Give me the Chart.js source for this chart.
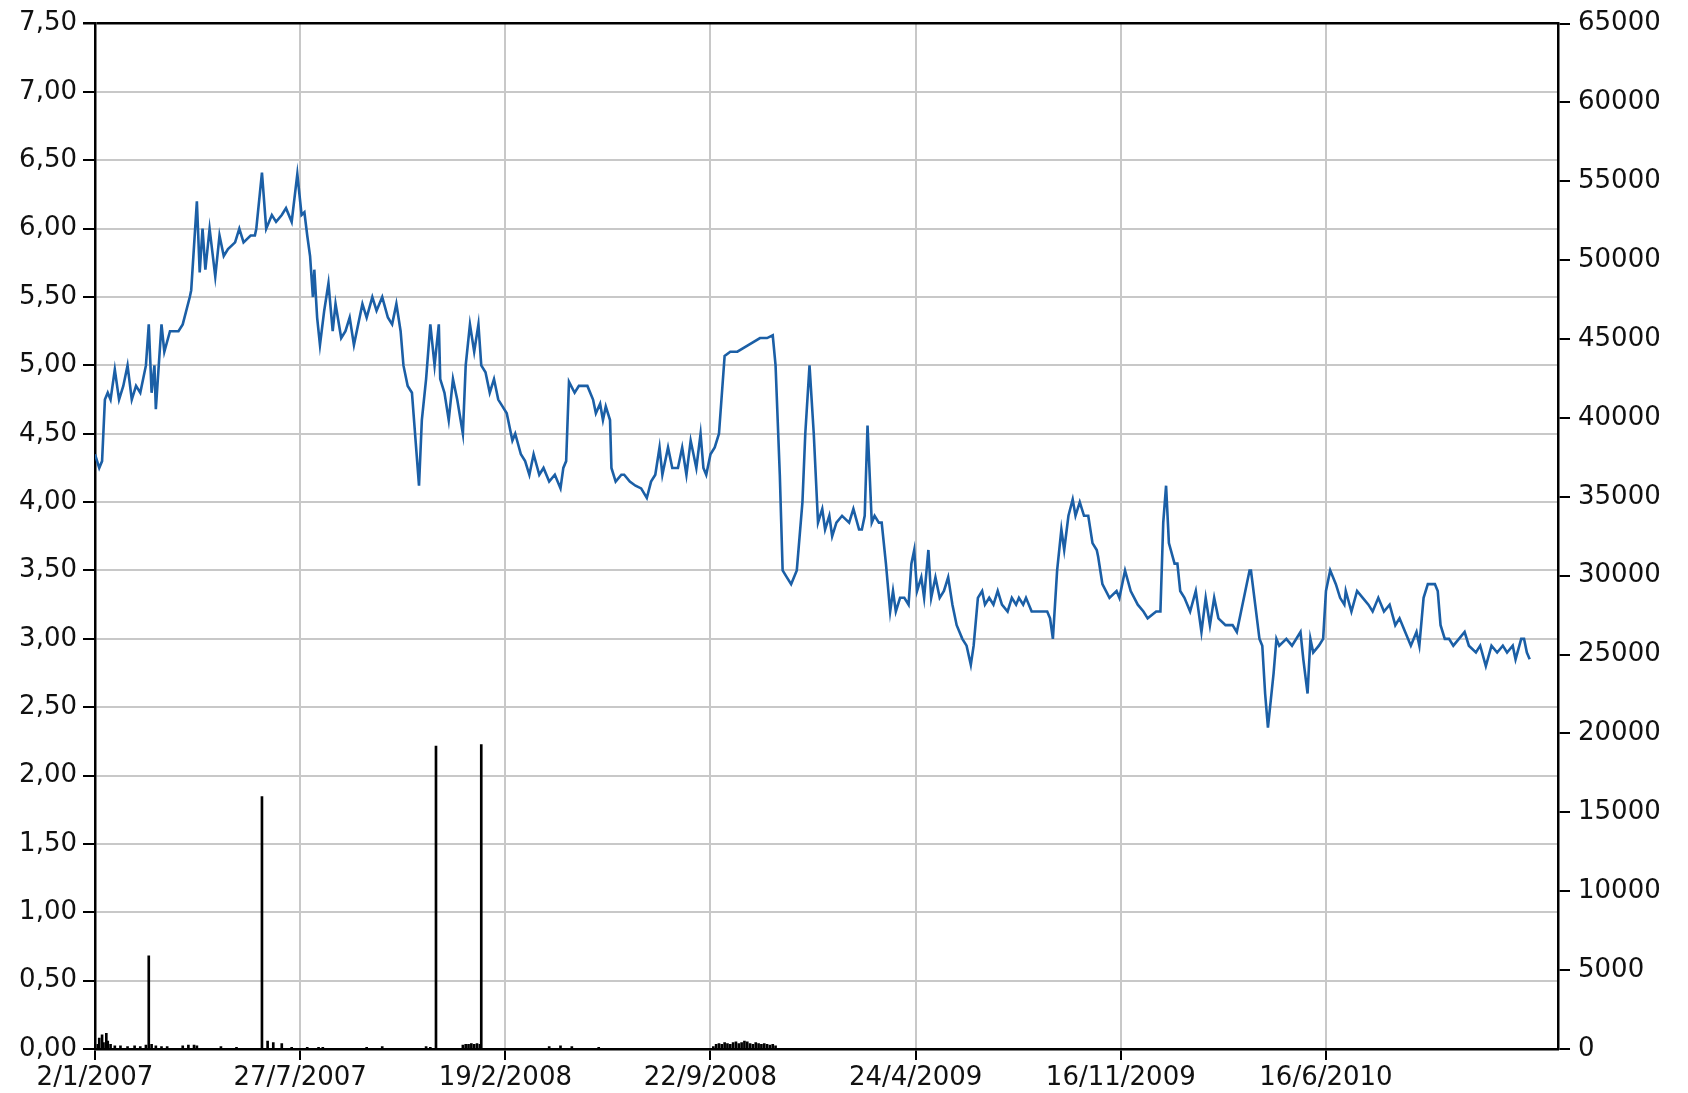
<!DOCTYPE html>
<html>
<head>
<meta charset="utf-8">
<script src="https://cdn.jsdelivr.net/npm/chart.js@4"></script>
<style>
html,body{margin:0;padding:0;background:#fff;}
#wrap{width:1688px;height:1093px;}
</style>
</head>
<body>
<div id="wrap"><canvas id="c" width="1688" height="1093"></canvas></div>
<script>
// x tick labels, one every TICK_STEP trading days
const xTickLabels = ["2/1/2007","27/7/2007","19/2/2008","22/9/2008","24/4/2009","16/11/2009","16/6/2010"];
const TICK_STEP = 145;
const X_MAX = 1034;

// price series (trading-day index, value)
const priceDay = [0,3,5,7,9,11,14,17,20,23,26,29,32,36,38,40,42,43,47,49,53,59,62,67,68,72,74,76,78,81,85,88,91,94,99,102,105,110,113,114,118,121,125,128,132,135,139,143,146,148,150,152,154,155,157,159,162,165,168,170,174,177,180,183,186,189,192,196,199,203,207,210,213,216,218,221,224,229,231,234,237,240,243,244,247,250,253,256,260,262,265,268,271,273,276,279,282,285,288,291,295,297,301,304,307,310,314,317,321,325,329,331,333,335,339,342,348,352,354,357,359,361,364,365,368,372,374,378,382,386,390,393,396,399,401,405,408,412,415,418,421,425,428,430,432,435,438,441,445,449,454,462,470,475,479,481,484,486,489,492,496,500,502,505,508,511,514,516,519,521,524,528,533,536,540,542,544,546,549,551,554,556,559,562,564,566,569,572,575,577,579,581,584,586,589,591,594,597,600,603,606,609,613,616,619,621,624,627,629,632,635,638,641,645,648,651,653,656,658,662,667,673,675,677,680,683,685,688,691,693,696,699,702,705,708,709,712,717,722,724,728,732,737,741,744,750,753,755,757,759,763,765,767,770,774,778,782,785,788,791,794,799,804,807,810,813,816,817,820,823,825,827,829,833,835,837,842,846,852,854,857,859,861,865,868,870,873,875,877,880,883,884,888,892,896,900,903,907,911,915,919,922,926,930,934,936,939,942,947,949,951,954,957,960,964,968,971,976,979,983,987,991,995,998,1002,1004,1008,1010,1012,1014];
const priceValue = [4.35,4.25,4.30,4.75,4.80,4.75,4.97,4.75,4.85,5.00,4.75,4.85,4.80,5.00,5.30,4.80,5.00,4.68,5.30,5.10,5.25,5.25,5.30,5.50,5.55,6.20,5.68,6.00,5.70,6.00,5.65,5.95,5.80,5.85,5.90,6.00,5.90,5.95,5.95,6.00,6.41,6.00,6.10,6.05,6.10,6.15,6.05,6.40,6.10,6.12,5.95,5.80,5.50,5.70,5.35,5.15,5.40,5.60,5.25,5.45,5.20,5.25,5.35,5.15,5.30,5.45,5.35,5.50,5.40,5.50,5.35,5.30,5.45,5.25,5.00,4.85,4.80,4.12,4.60,4.90,5.30,5.00,5.30,4.90,4.80,4.60,4.90,4.75,4.50,5.00,5.30,5.10,5.30,5.00,4.95,4.80,4.90,4.75,4.70,4.65,4.45,4.50,4.35,4.30,4.20,4.35,4.20,4.25,4.15,4.20,4.10,4.25,4.30,4.88,4.80,4.85,4.85,4.75,4.65,4.72,4.60,4.70,4.60,4.25,4.15,4.20,4.20,4.15,4.12,4.10,4.03,4.15,4.20,4.40,4.20,4.40,4.25,4.25,4.40,4.20,4.45,4.25,4.50,4.25,4.20,4.35,4.40,4.50,5.07,5.10,5.10,5.15,5.20,5.20,5.22,5.00,4.20,3.50,3.45,3.40,3.50,4.00,4.50,5.00,4.50,3.85,3.95,3.80,3.90,3.75,3.85,3.90,3.85,3.95,3.80,3.80,3.90,4.56,3.85,3.90,3.85,3.85,3.55,3.20,3.35,3.20,3.30,3.30,3.25,3.55,3.65,3.35,3.45,3.30,3.65,3.30,3.45,3.30,3.35,3.45,3.25,3.10,3.00,2.95,2.81,2.95,3.30,3.35,3.25,3.30,3.25,3.35,3.25,3.20,3.30,3.25,3.30,3.25,3.30,3.20,3.20,3.20,3.15,3.00,3.50,3.80,3.65,3.90,4.02,3.90,4.00,3.90,3.90,3.70,3.65,3.60,3.40,3.30,3.35,3.30,3.50,3.35,3.25,3.20,3.15,3.20,3.20,3.85,4.12,3.70,3.55,3.55,3.35,3.30,3.20,3.35,3.05,3.30,3.10,3.30,3.15,3.10,3.10,3.05,3.20,3.35,3.50,3.50,3.25,3.00,2.95,2.60,2.35,2.75,3.00,2.95,3.00,2.95,3.05,2.85,2.60,3.00,2.90,2.95,3.00,3.35,3.50,3.45,3.40,3.30,3.25,3.35,3.20,3.35,3.30,3.25,3.20,3.30,3.20,3.25,3.10,3.15,3.05,2.95,3.05,2.95,3.30,3.40,3.40,3.35,3.10,3.00,3.00,2.95,3.00,3.05,2.95,2.90,2.95,2.80,2.95,2.90,2.95,2.90,2.95,2.85,3.00,3.00,2.90,2.85];

// volume series (trading-day index, shares)
const volumeDay = [2,3,5,6,8,9,11,14,18,23,28,32,36,38,40,43,47,51,62,66,70,72,89,100,118,122,126,132,139,150,158,161,192,203,234,237,241,260,262,264,266,268,270,272,273,321,329,337,356,437,439,441,443,445,447,449,451,453,455,457,459,461,463,465,467,469,471,473,475,477,479,481];
const volumeValue = [300,700,900,400,1000,500,300,200,200,150,200,150,250,5900,300,200,150,150,200,250,250,200,150,100,16000,500,400,350,100,100,100,100,100,150,150,100,19200,250,300,300,350,300,350,300,19300,150,200,150,100,150,300,350,300,400,350,300,400,450,350,400,500,450,350,300,400,350,300,350,300,250,300,200];

const priceData = priceDay.map((d,i)=>({x:d,y:priceValue[i]}));
const volumeData = volumeDay.map((d,i)=>({x:d,y:volumeValue[i]}));

const FONT = {family:"'DejaVu Sans', Verdana, sans-serif", size:26};

new Chart(document.getElementById('c'), {
  data: {
    datasets: [
      {type:'line', data: priceData, yAxisID:'y', xAxisID:'x', borderColor:'#1b5fa6', borderWidth:2.6, pointRadius:0, tension:0, order:1},
      {type:'bar', data: volumeData, yAxisID:'y2', xAxisID:'x', backgroundColor:'#000', barThickness:2, order:2}
    ]
  },
  options: {
    responsive:false,
    devicePixelRatio:1,
    animation:false,
    layout:{padding:{top:21,left:0,right:0,bottom:0}},
    plugins:{legend:{display:false}, tooltip:{enabled:false}},
    scales:{
      x:{
        type:'linear', min:0, max:X_MAX, position:'bottom', offset:false,
        afterBuildTicks: s => { s.ticks = xTickLabels.map((_, i) => ({value: i * TICK_STEP})); },
        ticks:{color:'#111', font:FONT, padding:3, maxRotation:0, autoSkip:false,
          callback: v => xTickLabels[Math.round(v/TICK_STEP)] ?? ''},
        grid:{offset:false, color:'#c8c8c8', lineWidth:2, tickColor:'#000', tickLength:11},
        border:{color:'#000', width:2.5},
        afterFit: s => { s.height = 44; }
      },
      y:{
        type:'linear', position:'left', min:0, max:7.5,
        ticks:{stepSize:0.5, color:'#111', font:FONT, padding:6,
          callback: v => v.toFixed(2).replace('.', ',')},
        grid:{color: c => (c.tick && c.tick.value === 7.5) ? '#000' : '#c8c8c8', lineWidth: c => (c.tick && c.tick.value === 7.5) ? 2.5 : 2, tickColor:'#000', tickLength:12},
        border:{color:'#000', width:2.5},
        afterFit: s => { s.width = 95; }
      },
      y2:{
        type:'linear', position:'right', min:0, max:65000,
        ticks:{stepSize:5000, color:'#111', font:FONT, padding:8, callback: v => String(v)},
        grid:{drawOnChartArea:false, tickColor:'#000', tickLength:12, lineWidth:2},
        border:{color:'#000', width:2.5},
        afterFit: s => { s.width = 130; }
      }
    }
  }
});
</script>
</body>
</html>
